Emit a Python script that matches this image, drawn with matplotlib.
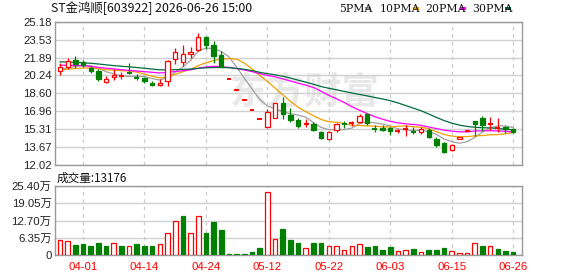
import numpy as np
import matplotlib
matplotlib.use("Agg")
import matplotlib.pyplot as plt
from matplotlib.patches import Rectangle

# ---------------- data ----------------
dates = ["03-27", "03-30", "03-31", "04-01", "04-02", "04-03", "04-07", "04-08", "04-09", "04-10",
         "04-13", "04-14", "04-15", "04-16", "04-17", "04-20", "04-21", "04-22", "04-23", "04-24",
         "04-27", "04-28", "04-29", "05-06", "05-07", "05-08", "05-11", "05-12", "05-13", "05-14",
         "05-15", "05-18", "05-19", "05-20", "05-21", "05-22", "05-25", "05-26", "05-27", "05-28",
         "05-29", "06-01", "06-02", "06-03", "06-04", "06-05", "06-08", "06-09", "06-10", "06-11",
         "06-12", "06-15", "06-16", "06-17", "06-18", "06-22", "06-23", "06-24", "06-25", "06-26"]

opens = [20.62, 20.99, 21.66, 21.48, 20.96, 20.65, 19.67, 20.08, 20.18, 20.50,
         20.00, 19.98, 19.58, 19.37, 19.74, 21.73, 21.51, 22.19, 22.55, 23.75,
         23.04, 22.15, 19.95, 18.95, 18.00, 17.10, 16.25, 15.49, 16.31, 17.75,
         16.62, 16.16, 15.80, 15.79, 15.08, 14.40, 15.24, 15.83, 15.88, 15.95,
         16.68, 15.36, 15.40, 15.40, 15.12, 15.30, 15.12, 15.08, 15.24, 14.38,
         14.02, 13.40, 14.45, 15.18, 16.05, 16.37, 15.74, 15.43, 15.51, 15.33]
highs = [21.36, 21.82, 22.03, 21.66, 21.11, 20.81, 20.20, 20.84, 20.59, 21.36,
         20.38, 20.13, 19.74, 19.92, 21.66, 22.80, 23.05, 22.85, 24.17, 23.87,
         23.44, 22.45, 19.95, 18.95, 18.00, 17.10, 16.25, 17.14, 17.75, 18.25,
         17.23, 16.31, 16.22, 16.00, 15.17, 15.17, 15.91, 16.10, 16.09, 16.70,
         16.77, 15.70, 15.70, 15.55, 15.33, 15.70, 15.49, 15.49, 15.40, 14.57,
         14.16, 13.95, 14.55, 15.28, 16.07, 16.55, 16.40, 16.31, 15.61, 15.45]
lows = [20.28, 20.81, 20.90, 21.05, 20.50, 19.74, 19.53, 19.83, 19.89, 20.38,
        19.83, 19.58, 19.31, 19.31, 19.31, 21.25, 21.11, 21.82, 22.52, 22.65,
        21.42, 21.00, 19.95, 18.95, 18.00, 17.10, 16.25, 15.44, 16.31, 16.25,
        16.00, 15.39, 15.49, 15.18, 14.40, 14.32, 15.08, 15.39, 15.61, 15.90,
        15.70, 15.08, 15.15, 14.80, 14.94, 14.70, 14.87, 14.90, 14.48, 13.71,
        13.16, 13.35, 14.45, 15.15, 14.70, 15.15, 15.24, 15.08, 15.00, 14.95]
closes = [20.99, 21.60, 21.27, 21.18, 20.68, 19.92, 19.88, 20.31, 20.22, 20.46,
          19.97, 19.77, 19.37, 19.58, 21.54, 22.43, 22.22, 22.40, 23.75, 23.04,
          22.05, 21.00, 19.95, 18.95, 18.00, 17.10, 16.25, 16.86, 17.69, 16.70,
          16.16, 15.61, 15.88, 15.24, 14.48, 15.08, 15.76, 15.79, 15.93, 16.55,
          15.85, 15.31, 15.25, 15.10, 15.17, 15.35, 15.07, 15.30, 14.57, 13.86,
          13.25, 13.86, 14.55, 15.28, 15.82, 15.70, 15.78, 15.47, 15.30, 15.03]
# closes before the visible window (estimated from the starting MA levels)
prior_closes = [22.3, 22.1, 22.4, 22.0, 21.8, 22.2, 22.5, 22.1, 21.9, 22.0,
                21.6, 21.8, 21.5, 21.9, 21.7, 21.4, 21.6, 21.8, 21.5, 21.3,
                20.9, 20.6, 20.8, 20.5, 20.7, 20.9, 20.6, 20.8, 20.7]
# volume in 万 (10k shares)
volumes = [5.74, 5.37, 3.66, 4.03, 3.30, 4.40, 3.30, 4.64, 3.30, 3.54,
           4.03, 3.30, 3.30, 4.27, 8.30, 12.70, 14.29, 8.06, 14.53, 8.06,
           12.09, 9.16, 0.37, 0.37, 0.37, 1.10, 2.56, 23.30, 6.10, 9.52,
           5.49, 4.40, 2.81, 4.40, 4.40, 3.30, 3.30, 2.08, 3.30, 4.27,
           2.93, 3.30, 1.83, 2.93, 1.47, 1.83, 2.20, 1.10, 1.83, 1.83,
           2.56, 1.47, 0.73, 0.73, 4.40, 3.30, 3.30, 2.20, 1.47, 1.3176]

price_tick_labels = ["25.18", "23.53", "21.89", "20.24", "18.60", "16.96", "15.31", "13.67", "12.02"]
vol_tick_values = [0, 6.35, 12.70, 19.05, 25.40]
vol_tick_labels = ["0", "6.35万", "12.70万", "19.05万", "25.40万"]
date_tick_labels = ["04-01", "04-14", "04-24", "05-12", "05-22", "06-03", "06-15", "06-26"]
ma_periods = [5, 10, 20, 30]
ma_colors = ["#a0a0a0", "#f0a000", "#ff00ff", "#006b3c"]
title = "ST金鸿顺[603922] 2026-06-26 15:00"

# ---------------- figure ----------------
W, H = 578, 276
fig = plt.figure(figsize=(W / 100, H / 100), dpi=100)
fig.patch.set_facecolor("white")

L, R = 55, 522
ax = fig.add_axes([L / W, 1 - 165 / H, (R - L) / W, (165 - 21.7) / H])
axv = fig.add_axes([L / W, 1 - 255.3 / H, (R - L) / W, (255.3 - 186) / H])

RED = "#ff0000"
GREEN = "#008000"
n = len(closes)
x = np.arange(n)

# watermark
ax.text(0.535, 0.50, "东方财富", transform=ax.transAxes, fontsize=27, fontweight="bold",
        color="#e8e8e8", ha="center", va="center", family=["Noto Sans CJK SC"], zorder=0)

# moving averages
allc = np.array(prior_closes + closes)
for p, col in zip(ma_periods, ma_colors):
    ma = np.convolve(allc, np.ones(p) / p, mode="valid")[-n:]
    ax.plot(x, ma, color=col, lw=0.9, zorder=2)

# candles
bw = 0.56
for i in range(n):
    o, h, l, c = opens[i], highs[i], lows[i], closes[i]
    up = c >= o
    col = RED if up else GREEN
    ax.vlines(i, l, h, color=col, lw=0.9, zorder=3)
    if abs(c - o) < 0.07:
        ax.hlines((o + c) / 2, i - bw / 2 - 0.04, i + bw / 2 + 0.04, color=col, lw=1.4, zorder=4)
    else:
        ax.add_patch(Rectangle((i - bw / 2, min(o, c)), bw, abs(c - o),
                               facecolor="white" if up else col, edgecolor=col, lw=0.9, zorder=4))

ax.set_xlim(-0.65, 60.15)
ax.set_ylim(float(price_tick_labels[-1]), float(price_tick_labels[0]))
ax.set_yticks([float(t) for t in price_tick_labels])
ax.set_yticklabels(price_tick_labels)

tick_pos = [dates.index(d) for d in date_tick_labels]
for a in (ax, axv):
    a.set_xticks(tick_pos)
    a.set_xlim(-0.65, 60.15)
    a.grid(axis="y", color="#d0d0d0", lw=1.0, zorder=0)
    a.grid(axis="x", color="#cccccc", lw=0.9, ls=(0, (3, 3)), zorder=0)
    a.set_axisbelow(True)
    for s in a.spines.values():
        s.set_color("#999999")
        s.set_linewidth(1.0)
    a.tick_params(length=0)
    for lab in a.get_yticklabels():
        lab.set_fontfamily(["Liberation Sans", "Noto Sans CJK SC"])
        lab.set_fontsize(8.2)
        lab.set_color("#222222")
ax.set_xticklabels([])
ax.tick_params(axis="y", pad=2.5)

# volume
prev = [closes[0]] + closes[:-1]
for i in range(n):
    up = closes[i] >= prev[i] if i > 0 else closes[i] >= opens[i]
    if up:
        axv.add_patch(Rectangle((i - 0.3, 0), 0.6, volumes[i], facecolor="white",
                                edgecolor=RED, lw=0.9, zorder=3))
    else:
        axv.add_patch(Rectangle((i - 0.3, 0), 0.6, volumes[i], facecolor=GREEN,
                                edgecolor=GREEN, lw=0.9, zorder=3))
axv.set_ylim(0, vol_tick_values[-1])
axv.set_yticks(vol_tick_values)
axv.set_yticklabels(vol_tick_labels, family=["Liberation Sans", "Noto Sans CJK SC"], fontsize=8.2,
                    color="#222222")
axv.set_xticklabels(date_tick_labels, family=["Liberation Sans"], fontsize=8.2, color=RED)
axv.tick_params(axis="x", pad=5)
axv.tick_params(axis="y", pad=2.5)

# texts
fig.text(51 / W, 1 - 8.5 / H, title, fontsize=8.9, va="center", ha="left",
         family=["Noto Sans CJK SC", "DejaVu Sans"], color="#111111")
fig.text(57 / W, 1 - 178 / H, f"成交量:{round(volumes[-1] * 10000)}", fontsize=8.4, va="center",
         ha="left", family=["Noto Sans CJK SC", "DejaVu Sans"], color="#111111")

# legend
leg_text_x = [339, 380, 425, 472]
leg_mark_x = [365, 413, 460, 505]
for p, col, tx, mx in zip(ma_periods, ma_colors, leg_text_x, leg_mark_x):
    fig.text(tx / W, 1 - 8.5 / H, f"{p}PMA", fontsize=7.8, va="center", ha="left",
             family=["DejaVu Serif"], color="#111111")
    fig.patches.append(Rectangle((mx / W, 1 - 10 / H), 6 / W, 3 / H, transform=fig.transFigure,
                                 facecolor=col, edgecolor="none"))

fig.savefig("out.png", dpi=100)
